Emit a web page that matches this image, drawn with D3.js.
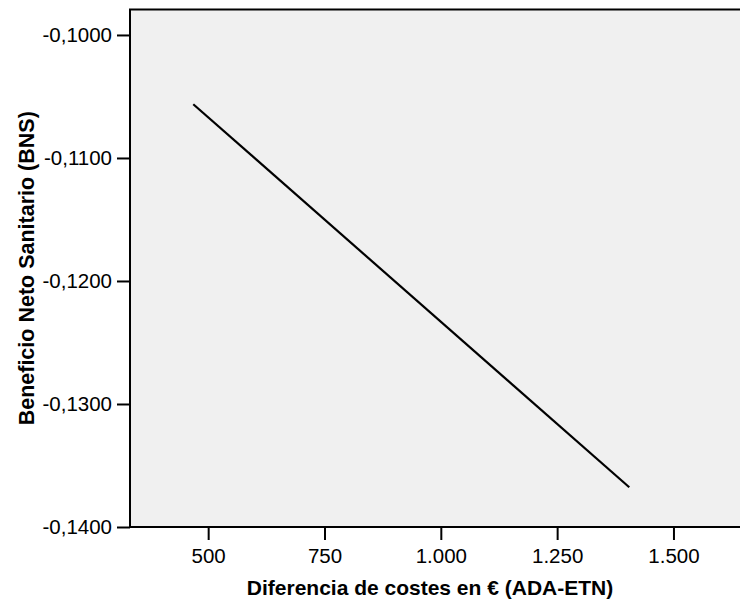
<!DOCTYPE html>
<html>
<head>
<meta charset="utf-8">
<script src="https://cdn.jsdelivr.net/npm/d3@7"></script>
<style>
  html, body { margin: 0; padding: 0; background: #fff; }
  svg { display: block; font-family: "Liberation Sans", Arial, sans-serif; }
</style>
</head>
<body>
<div id="chart"></div>
<script>
// data
const costDiff = [468, 1405];            // Diferencia de costes en €
const netBenefit = [-0.10563, -0.13677]; // Beneficio Neto Sanitario
const xTicks = [500, 750, 1000, 1250, 1500];
const yTicks = [-0.10, -0.11, -0.12, -0.13, -0.14];
const xTitle = "Diferencia de costes en € (ADA-ETN)";
const yTitle = "Beneficio Neto Sanitario (BNS)";

const width = 740, height = 604;
const margin = { left: 130, right: 0, top: 9.5, bottom: 77 };

const svg = d3.select("#chart").append("svg")
    .attr("width", width)
    .attr("height", height);

const xScale = d3.scaleLinear()
    .domain([332, 1643])
    .range([margin.left, width - margin.right]);

const yScale = d3.scaleLinear()
    .domain([-0.14, -0.09793])
    .range([height - margin.bottom, margin.top]);

// plot background
svg.append("rect")
    .attr("x", margin.left)
    .attr("y", margin.top)
    .attr("width", width - margin.left - margin.right + 2)
    .attr("height", height - margin.bottom - margin.top)
    .attr("fill", "#f0f0f0")
    .attr("stroke", "#000")
    .attr("stroke-width", 2);

// number formats (spanish style)
const fmtY = d => d3.format(".4f")(d).replace(".", ",").replace("−", "-");
const fmtX = d => d3.format(",")(d).replace(/,/g, ".");

const xAxis = d3.axisBottom(xScale)
    .tickValues(xTicks)
    .tickSize(13)
    .tickPadding(8)
    .tickFormat(fmtX);

const yAxis = d3.axisLeft(yScale)
    .tickValues(yTicks)
    .tickSize(13)
    .tickPadding(5)
    .tickFormat(fmtY);

const gx = svg.append("g")
    .attr("transform", `translate(0, ${height - margin.bottom})`)
    .call(xAxis);
const gy = svg.append("g")
    .attr("transform", `translate(${margin.left}, 0)`)
    .call(yAxis);

[gx, gy].forEach(g => {
    g.select(".domain").remove();
    g.selectAll(".tick line").attr("stroke", "#000").attr("stroke-width", 2);
    g.selectAll(".tick text")
        .attr("fill", "#000")
        .attr("font-size", "20.5px")
        .attr("font-family", "Liberation Sans, Arial, sans-serif");
});

// line
const lineData = costDiff.map((c, i) => ({ x: c, y: netBenefit[i] }));
svg.append("path")
    .datum(lineData)
    .attr("fill", "none")
    .attr("stroke", "#000")
    .attr("stroke-width", 2.2)
    .attr("d", d3.line().x(d => xScale(d.x)).y(d => yScale(d.y)));

// titles
svg.append("text")
    .attr("x", 430)
    .attr("y", 595)
    .attr("text-anchor", "middle")
    .attr("font-size", "21px")
    .attr("font-weight", "bold")
    .attr("fill", "#000")
    .text(xTitle);

svg.append("text")
    .attr("transform", `translate(34, ${(margin.top + height - margin.bottom) / 2}) rotate(-90)`)
    .attr("text-anchor", "middle")
    .attr("font-size", "21.5px")
    .attr("font-weight", "bold")
    .attr("fill", "#000")
    .text(yTitle);
</script>
</body>
</html>
